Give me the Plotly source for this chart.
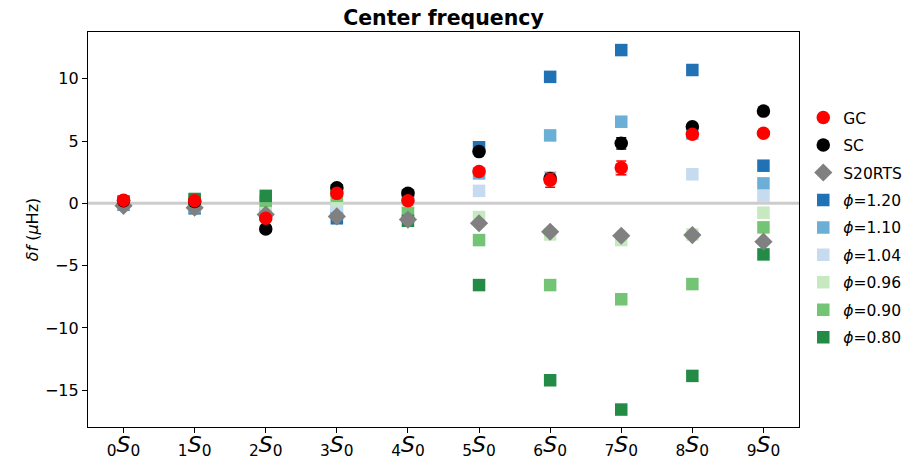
import plotly.graph_objects as go

modes = [0, 1, 2, 3, 4, 5, 6, 7, 8, 9]
tick_labels = [f"<sub>{n}</sub><i>S</i><sub>0</sub>" for n in modes]

gc = [0.25, 0.2, -1.2, 0.8, 0.2, 2.55, 1.85, 2.85, 5.55, 5.62]
gc_err = [0.1, 0.1, 0.15, 0.15, 0.15, 0.2, 0.55, 0.55, 0.3, 0.2]
sc = [0.2, 0.15, -2.05, 1.25, 0.8, 4.15, 2.0, 4.82, 6.15, 7.4]
sc_err = [0.1, 0.1, 0.15, 0.15, 0.15, 0.2, 0.4, 0.45, 0.25, 0.2]
s20rts = [-0.2, -0.35, -0.9, -1.05, -1.3, -1.6, -2.28, -2.6, -2.55, -3.08]

phi_names = ["<i>\u03d5</i>=1.20", "<i>\u03d5</i>=1.10", "<i>\u03d5</i>=1.04",
             "<i>\u03d5</i>=0.96", "<i>\u03d5</i>=0.90", "<i>\u03d5</i>=0.80"]
phi_colors = ["#2171b5", "#6baed6", "#c6dbef", "#c7e9c0", "#74c476", "#238b45"]
phi_120 = [-0.1, -0.4, -0.9, -1.2, 0.65, 4.5, 10.15, 12.3, 10.7, 3.02]
phi_110 = [-0.05, -0.3, -0.6, -0.55, 0.4, 2.4, 5.45, 6.55, 5.6, 1.6]
phi_104 = [0.0, -0.1, -0.3, -0.2, 0.15, 1.0, 2.1, 2.7, 2.33, 0.6]
phi_096 = [0.05, 0.1, 0.05, 0.25, -0.3, -1.1, -2.5, -2.95, -2.5, -0.75]
phi_090 = [0.1, 0.25, 0.2, 0.6, -0.8, -2.95, -6.56, -7.7, -6.48, -1.93]
phi_080 = [0.15, 0.35, 0.6, 1.05, -1.4, -6.56, -14.2, -16.55, -13.85, -4.1]
phi_values = [phi_120, phi_110, phi_104, phi_096, phi_090, phi_080]

fig = go.Figure()

for i, (name, col, vals) in enumerate(zip(phi_names, phi_colors, phi_values)):
    fig.add_trace(go.Scatter(
        x=modes, y=vals, mode="markers", name=name,
        marker=dict(symbol="square", size=12.5, color=col, line=dict(width=0)),
        legendrank=4 + i, legendgroup=f"phi{i}",
    ))

fig.add_trace(go.Scatter(
    x=modes, y=s20rts, mode="markers", name="S20RTS",
    marker=dict(symbol="diamond", size=14, color="#808080", line=dict(width=0)),
    legendrank=3, legendgroup="S20RTS",
))
fig.add_trace(go.Scatter(
    x=modes, y=sc, mode="markers", name="SC",
    marker=dict(symbol="circle", size=13.5, color="black", line=dict(width=0)),
    error_y=dict(type="data", array=sc_err, color="black", thickness=1.5, width=5),
    legendrank=2, legendgroup="SC",
))
fig.add_trace(go.Scatter(
    x=modes, y=gc, mode="markers", name="GC",
    marker=dict(symbol="circle", size=13.5, color="red", line=dict(width=0)),
    error_y=dict(type="data", array=gc_err, color="red", thickness=1.5, width=5),
    legendrank=1, legendgroup="GC",
))

fig.add_shape(type="line", xref="paper", x0=0, x1=1, yref="y", y0=0, y1=0,
              line=dict(color="#cccccc", width=3), layer="below")

fig.update_layout(
    width=911, height=461,
    margin=dict(l=80, r=120, t=24, b=42),
    paper_bgcolor="white", plot_bgcolor="white",
    font=dict(family="DejaVu Sans", size=16, color="black"),
    title=dict(text="<b>Center frequency</b>", x=0.5, xref="paper", xanchor="center",
               y=0.995, yref="container", yanchor="top",
               font=dict(size=20.5, family="DejaVu Sans", color="black")),
    showlegend=True,
    legend=dict(x=1.006, xanchor="left", y=0.505, yanchor="middle",
                font=dict(size=15.5, family="DejaVu Sans"),
                traceorder="grouped", tracegroupgap=4.3,
                bgcolor="rgba(0,0,0,0)", borderwidth=0),
)
fig.update_xaxes(
    range=[-0.5, 9.5], tickmode="array", tickvals=modes, ticktext=tick_labels,
    tickfont=dict(size=22, family="DejaVu Sans"), automargin=False,
    ticklabelstandoff=-8,
    showline=True, linecolor="black", linewidth=1.3, mirror=True,
    ticks="outside", ticklen=5, tickwidth=1.2, tickcolor="black",
    showgrid=False, zeroline=False,
)
fig.update_yaxes(
    range=[-17.95, 13.75], tickvals=[-15, -10, -5, 0, 5, 10],
    ticktext=["\u221215", "\u221210", "\u22125", "0", "5", "10"],
    tickfont=dict(size=16), automargin=False,
    title=dict(text="<i>\u03b4f</i> (<i>\u03bc</i>Hz)", font=dict(size=16), standoff=2),
    showline=True, linecolor="black", linewidth=1.3, mirror=True,
    ticks="outside", ticklen=5, tickwidth=1.2, tickcolor="black",
    showgrid=False, zeroline=False,
)

fig.write_html("out.html")
